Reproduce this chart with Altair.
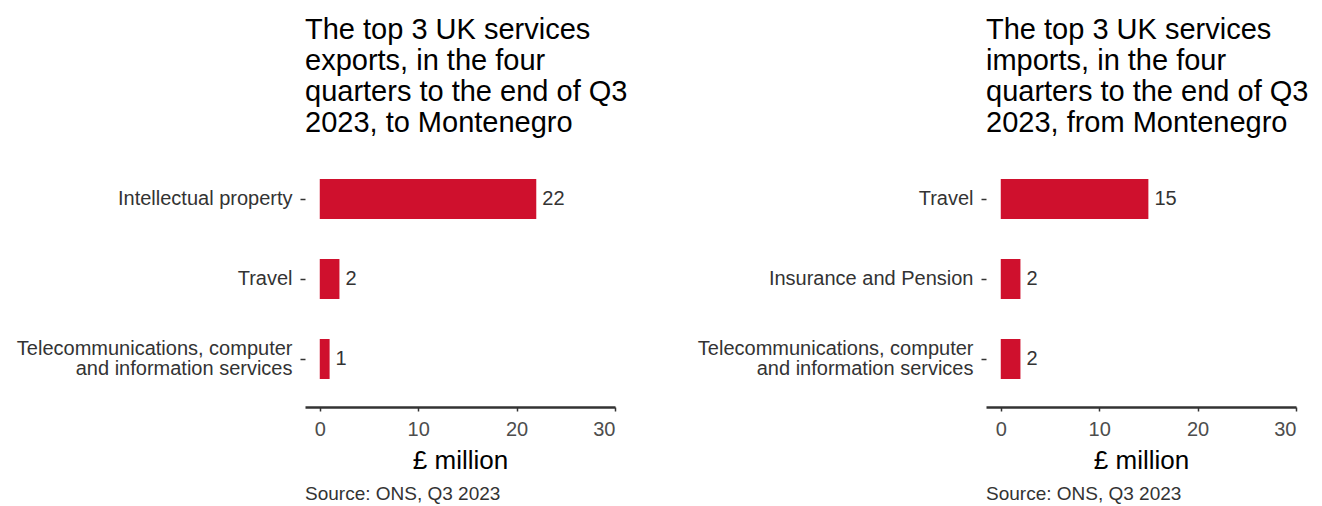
import altair as alt
import pandas as pd

FONT = "Liberation Sans"
RED = "#cf102d"

exp_categories = ["Intellectual property", "Travel",
                  "Telecommunications, computer\nand information services"]
exp_values = [22, 2, 1]
exp_title = ["The top 3 UK services", "exports, in the four",
             "quarters to the end of Q3", "2023, to Montenegro"]

imp_categories = ["Travel", "Insurance and Pension",
                  "Telecommunications, computer\nand information services"]
imp_values = [15, 2, 2]
imp_title = ["The top 3 UK services", "imports, in the four",
             "quarters to the end of Q3", "2023, from Montenegro"]

x_ticks = [0, 10, 20, 30]
x_title = "£ million"
source_text = ["Source: ONS, Q3 2023"]

W, H = 310, 256


def panel(cats, vals, title):
    df = pd.DataFrame({"cat": cats, "val": vals})
    y = alt.Y("cat:N", sort=cats, title=None,
              scale=alt.Scale(paddingInner=0.5, paddingOuter=0.35),
              axis=alt.Axis(domain=False, ticks=True, tickSize=5, tickColor="#333333",
                            tickWidth=1.5, labelFontSize=20, labelColor="#333333",
                            labelPadding=8, labelLimit=400, labelLineHeight=20,
                            labelExpr="split(datum.label, '\\n')",
                            labelOffset={"condition": {"test": "indexof(datum.label, '\\n') >= 0",
                                                       "value": -10},
                                         "value": 0},
                            minExtent=297, maxExtent=297))
    x = alt.X("val:Q", title=x_title,
              scale=alt.Scale(domain=[-1.5, 30], nice=False, zero=False),
              axis=alt.Axis(values=x_ticks, grid=False, domainColor="#333333",
                            domainWidth=2.5, tickColor="#333333", tickWidth=1.5,
                            tickSize=4, labelFontSize=20, labelColor="#4d4d4d",
                            labelPadding=8, titleFontSize=26, titleColor="black",
                            titleFontWeight="normal", titlePadding=8))
    bars = alt.Chart(df).mark_bar(color=RED).encode(
        x=x, x2=alt.datum(0), y=y)
    labels = alt.Chart(df).mark_text(align="left", baseline="middle", dx=6,
                                     fontSize=20, color="#333333").encode(
        x="val:Q", y=alt.Y("cat:N", sort=cats), text="val:Q")
    src = alt.Chart(pd.DataFrame({"t": source_text})).mark_text(
        align="left", baseline="alphabetic", fontSize=19, color="#333333").encode(
        x=alt.value(0), y=alt.value(H + 93), text="t:N")
    return alt.layer(bars, labels, src).properties(
        width=W, height=H,
        title=alt.TitleParams(text=title, anchor="start", frame="group",
                              fontSize=29, fontWeight="normal", color="black",
                              lineHeight=31, offset=13))


left = panel(exp_categories, exp_values, exp_title)
right = panel(imp_categories, imp_values, imp_title)

chart = alt.hconcat(left, right, spacing=371, bounds="flush").properties(
    padding={"left": 0, "top": 8, "right": 0, "bottom": 0}
).configure(font=FONT).configure_view(stroke=None)

chart.save("out.html", embed_options={"renderer": "svg", "actions": False})
